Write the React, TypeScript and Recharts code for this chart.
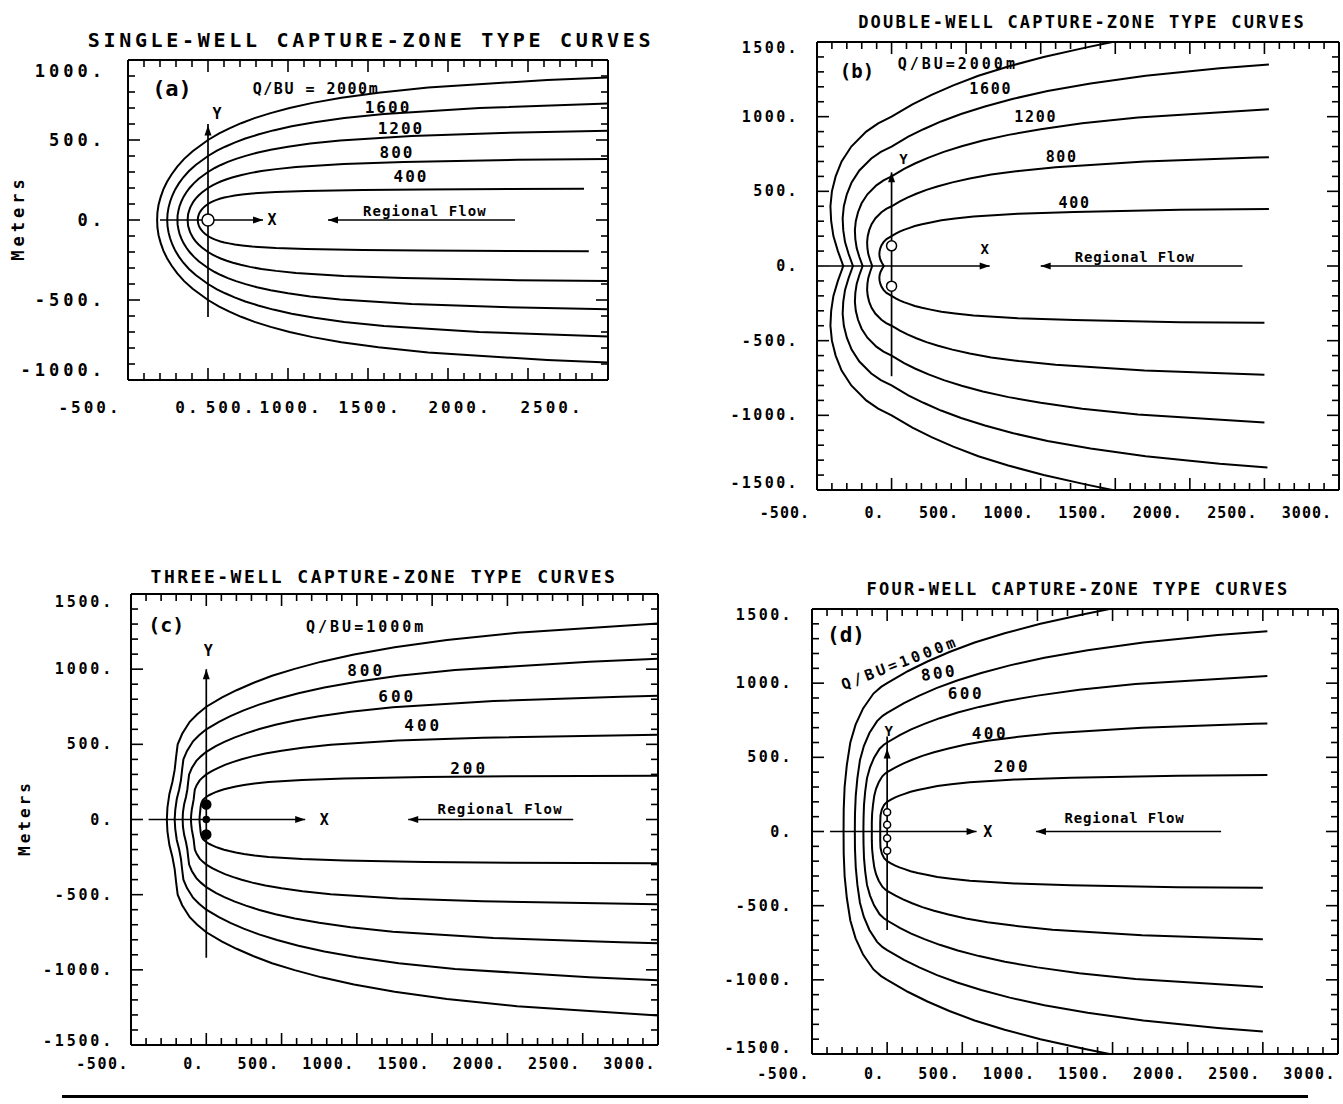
import React from "react";
import { LineChart, Line, XAxis, YAxis, ReferenceLine, ReferenceDot } from "recharts";

type Pt = [number, number];
const FONT = "'DejaVu Sans Mono', 'Liberation Mono', monospace";

// ---------------- (a) single well, Q/BU = 2000, 1600, 1200, 800, 400 m
const singleQ2000: Pt[] = [
  [2500, 891], [2120, 875], [1376, 828], [1065, 796], [834, 764], [654, 732], [510, 700], [391, 668], [291, 637], [207, 605], [134, 573], [70, 541], [0, 500], [-96, 430], [-149, 382], [-192, 334], [-227, 286], [-256, 239], [-279, 191], [-296, 143], [-309, 95], [-316, 48], [-318, 0],
  [-316, -48], [-309, -95], [-296, -143], [-279, -191], [-256, -239], [-227, -286], [-192, -334], [-149, -382], [-96, -430], [0, -500], [70, -541], [134, -573], [207, -605], [291, -637], [391, -668], [510, -700], [654, -732], [834, -764], [1065, -796], [1376, -828], [2120, -875], [2500, -891],
];
const singleQ1600: Pt[] = [
  [2500, 728], [1696, 700], [1100, 662], [852, 637], [667, 611], [523, 586], [408, 560], [313, 534], [233, 509], [166, 484], [107, 458], [56, 433], [0, 400], [-77, 344], [-119, 306], [-154, 267], [-182, 229], [-205, 191], [-223, 153], [-237, 114], [-247, 76], [-253, 38], [-255, 0],
  [-253, -38], [-247, -76], [-237, -114], [-223, -153], [-205, -191], [-182, -229], [-154, -267], [-119, -306], [-77, -344], [0, -400], [56, -433], [107, -458], [166, -484], [233, -509], [313, -534], [408, -560], [523, -586], [667, -611], [852, -637], [1100, -662], [1696, -700], [2500, -728],
];
const singleQ1200: Pt[] = [
  [2500, 558], [1835, 544], [1272, 525], [826, 497], [639, 478], [500, 458], [392, 439], [306, 420], [235, 401], [175, 382], [124, 363], [80, 344], [42, 325], [0, 300], [-58, 258], [-89, 229], [-115, 200], [-136, 172], [-154, 143], [-167, 115], [-178, 86], [-185, 57], [-190, 29], [-191, 0],
  [-190, -29], [-185, -57], [-178, -86], [-167, -115], [-154, -143], [-136, -172], [-115, -200], [-89, -229], [-58, -258], [0, -300], [42, -325], [80, -344], [124, -363], [175, -382], [235, -401], [306, -420], [392, -439], [500, -458], [639, -478], [826, -497], [1272, -525], [1835, -544], [2500, -558],
];
const singleQ800: Pt[] = [
  [2500, 381], [1936, 376], [1223, 363], [848, 350], [550, 331], [426, 318], [334, 306], [262, 293], [204, 280], [156, 267], [117, 255], [83, 242], [53, 229], [28, 216], [0, 200], [-38, 172], [-59, 153], [-77, 134], [-91, 115], [-102, 96], [-112, 76], [-118, 57], [-124, 38], [-126, 19], [-127, 0],
  [-126, -19], [-124, -38], [-118, -57], [-112, -76], [-102, -96], [-91, -115], [-77, -134], [-59, -153], [-38, -172], [0, -200], [28, -216], [53, -229], [83, -242], [117, -255], [156, -267], [204, -280], [262, -293], [334, -306], [426, -318], [550, -331], [848, -350], [1223, -363], [1936, -376], [2500, -381],
];
const singleQ400: Pt[] = [
  [2350, 195], [1340, 191], [968, 188], [612, 181], [424, 175], [275, 166], [213, 159], [167, 153], [131, 146], [102, 140], [78, 134], [58, 127], [41, 121], [27, 115], [14, 108], [0, 100], [-19, 86], [-30, 76], [-38, 67], [-45, 57], [-51, 48], [-56, 38], [-59, 29], [-62, 19], [-63, 10], [-64, 0],
  [-63, -10], [-62, -19], [-59, -29], [-56, -38], [-51, -48], [-45, -57], [-38, -67], [-30, -76], [-19, -86], [0, -100], [14, -108], [27, -115], [41, -121], [58, -127], [78, -134], [102, -140], [131, -146], [167, -153], [213, -159], [275, -166], [424, -175], [612, -181], [968, -188], [1340, -191], [2380, -195],
];

// ---------------- (b) double well, Q/BU = 2000, 1600, 1200, 800, 400 m
const doubleQ2000: Pt[] = [
  [1480, 1500], [1308, 1464], [1020, 1400], [782, 1336], [582, 1274], [414, 1210], [268, 1146], [140, 1082], [0, 1000], [-90, 955], [-170, 900], [-270, 800], [-335, 700], [-375, 600], [-400, 500], [-410, 400], [-405, 300], [-390, 200], [-360, 100], [-324, 0],
  [-360, -100], [-390, -200], [-405, -300], [-410, -400], [-400, -500], [-375, -600], [-335, -700], [-270, -800], [-170, -900], [-90, -955], [0, -1000], [140, -1082], [268, -1146], [414, -1210], [582, -1274], [782, -1336], [1020, -1400], [1308, -1464], [1480, -1500],
];
const doubleQ1600: Pt[] = [
  [2530, 1350], [2200, 1324], [1704, 1274], [1334, 1222], [1046, 1172], [816, 1120], [626, 1068], [466, 1018], [332, 968], [214, 916], [112, 866], [0, 800], [-72, 764], [-136, 720], [-216, 640], [-268, 560], [-300, 480], [-320, 400], [-328, 320], [-324, 240], [-312, 160], [-288, 80], [-259, 0],
  [-288, -80], [-312, -160], [-324, -240], [-328, -320], [-320, -400], [-300, -480], [-268, -560], [-216, -640], [-136, -720], [-72, -764], [0, -800], [112, -866], [214, -916], [332, -968], [466, -1018], [626, -1068], [816, -1120], [1046, -1172], [1334, -1222], [1704, -1274], [2200, -1324], [2520, -1349],
];
const doubleQ1200: Pt[] = [
  [2530, 1049], [1652, 994], [1278, 956], [1000, 916], [784, 878], [612, 840], [470, 802], [350, 764], [248, 726], [160, 688], [84, 650], [0, 600], [-54, 573], [-102, 540], [-162, 480], [-201, 420], [-225, 360], [-240, 300], [-246, 240], [-243, 180], [-234, 120], [-216, 60], [-194, 0],
  [-216, -60], [-234, -120], [-243, -180], [-246, -240], [-240, -300], [-225, -360], [-201, -420], [-162, -480], [-102, -540], [-54, -573], [0, -600], [84, -650], [160, -688], [248, -726], [350, -764], [470, -802], [612, -840], [784, -878], [1000, -916], [1278, -956], [1652, -994], [2500, -1048],
];
const doubleQ800: Pt[] = [
  [2530, 729], [2446, 726], [1696, 700], [1100, 662], [852, 636], [668, 612], [524, 586], [408, 560], [312, 534], [234, 510], [166, 484], [106, 458], [56, 432], [0, 400], [-36, 382], [-68, 360], [-108, 320], [-134, 280], [-150, 240], [-160, 200], [-164, 160], [-162, 120], [-156, 80], [-144, 40], [-130, 0],
  [-144, -40], [-156, -80], [-162, -120], [-164, -160], [-160, -200], [-150, -240], [-134, -280], [-108, -320], [-68, -360], [-36, -382], [0, -400], [56, -432], [106, -458], [166, -484], [234, -510], [312, -534], [408, -560], [524, -586], [668, -612], [852, -636], [1100, -662], [1696, -700], [2500, -728],
];
const doubleQ400: Pt[] = [
  [2530, 381], [1936, 376], [1224, 362], [848, 350], [550, 332], [426, 318], [334, 306], [262, 292], [204, 280], [156, 268], [116, 254], [82, 242], [54, 230], [28, 216], [0, 200], [-34, 180], [-54, 160], [-67, 140], [-75, 120], [-80, 100], [-82, 80], [-80, 60], [-74, 40], [-64, 20], [-52, 0],
  [-64, -20], [-74, -40], [-80, -60], [-82, -80], [-80, -100], [-75, -120], [-67, -140], [-54, -160], [-34, -180], [0, -200], [28, -216], [54, -230], [82, -242], [116, -254], [156, -268], [204, -280], [262, -292], [334, -306], [426, -318], [550, -332], [848, -350], [1224, -362], [1936, -376], [2500, -380],
];

// ---------------- (c) three wells, Q/BU = 1000, 800, 600, 400, 200 m
const tripleQ1000: Pt[] = [
  [3000, 1304], [2064, 1242], [1598, 1194], [1251, 1146], [981, 1098], [765, 1050], [587, 1002], [437, 956], [311, 908], [201, 860], [105, 812], [0, 750], [-60, 700], [-110, 650], [-160, 570], [-190, 500], [-200, 420], [-210, 330], [-225, 250], [-245, 170], [-258, 80], [-262, 0],
  [-258, -80], [-245, -170], [-225, -250], [-210, -330], [-200, -420], [-190, -500], [-160, -570], [-110, -650], [-60, -700], [0, -750], [105, -812], [201, -860], [311, -908], [437, -956], [587, -1002], [765, -1050], [981, -1098], [1251, -1146], [1598, -1194], [2064, -1242], [3000, -1304],
];
const tripleQ800: Pt[] = [
  [3000, 1070], [2544, 1050], [1652, 994], [1278, 956], [1000, 916], [784, 878], [612, 840], [470, 802], [350, 764], [248, 726], [160, 688], [84, 650], [0, 600], [-48, 560], [-88, 520], [-128, 456], [-152, 400], [-160, 336], [-168, 264], [-180, 200], [-196, 136], [-206, 64], [-210, 0],
  [-206, -64], [-196, -136], [-180, -200], [-168, -264], [-160, -336], [-152, -400], [-128, -456], [-88, -520], [-48, -560], [0, -600], [84, -650], [160, -688], [248, -726], [350, -764], [470, -802], [612, -840], [784, -878], [1000, -916], [1278, -956], [1652, -994], [2544, -1050], [3000, -1070],
];
const tripleQ600: Pt[] = [
  [3000, 823], [2753, 816], [1908, 788], [1239, 746], [959, 717], [750, 687], [588, 659], [459, 630], [353, 602], [263, 573], [186, 545], [120, 516], [63, 488], [0, 450], [-36, 420], [-66, 390], [-96, 342], [-114, 300], [-120, 252], [-126, 198], [-135, 150], [-147, 102], [-155, 48], [-157, 0],
  [-155, -48], [-147, -102], [-135, -150], [-126, -198], [-120, -252], [-114, -300], [-96, -342], [-66, -390], [-36, -420], [0, -450], [63, -488], [120, -516], [186, -545], [263, -573], [353, -602], [459, -630], [588, -659], [750, -687], [959, -717], [1239, -746], [1908, -788], [2753, -816], [3000, -823],
];
const tripleQ400: Pt[] = [
  [3000, 564], [1835, 544], [1272, 525], [826, 497], [639, 478], [500, 458], [392, 439], [306, 420], [235, 401], [175, 382], [124, 363], [80, 344], [42, 325], [0, 300], [-24, 280], [-44, 260], [-64, 228], [-76, 200], [-80, 168], [-84, 132], [-90, 100], [-96, 68], [-100, 32], [-102, 0],
  [-100, -32], [-96, -68], [-90, -100], [-84, -132], [-80, -168], [-76, -200], [-64, -228], [-44, -260], [-24, -280], [0, -300], [42, -325], [80, -344], [124, -363], [175, -382], [235, -401], [306, -420], [392, -439], [500, -458], [639, -478], [826, -497], [1272, -525], [1835, -544], [3000, -564],
];
const tripleQ200: Pt[] = [
  [3000, 291], [2010, 287], [1453, 282], [918, 272], [636, 263], [413, 249], [320, 239], [250, 229], [196, 220], [153, 210], [118, 201], [88, 191], [62, 182], [40, 172], [21, 163], [0, 150], [-12, 140], [-22, 130], [-30, 115], [-35, 100], [-38, 80], [-40, 60], [-42, 40], [-44, 20], [-45, 0],
  [-44, -20], [-42, -40], [-40, -60], [-38, -80], [-35, -100], [-30, -115], [-22, -130], [-12, -140], [0, -150], [21, -163], [40, -172], [62, -182], [88, -191], [118, -201], [153, -210], [196, -220], [250, -229], [320, -239], [413, -249], [636, -263], [918, -272], [1453, -282], [2010, -287], [3000, -291],
];

// ---------------- (d) four wells, Q/BU = 1000, 800, 600, 400, 200 m
const quadQ1000: Pt[] = [
  [1480, 1500], [1308, 1464], [1020, 1400], [782, 1336], [582, 1274], [414, 1210], [268, 1146], [140, 1082], [0, 1000], [-40, 975], [-91, 930], [-160, 830], [-210, 720], [-245, 600], [-268, 450], [-283, 300], [-289, 150], [-290, 0],
  [-289, -150], [-283, -300], [-268, -450], [-245, -600], [-210, -720], [-160, -830], [-91, -930], [-40, -975], [0, -1000], [140, -1082], [268, -1146], [414, -1210], [582, -1274], [782, -1336], [1020, -1400], [1308, -1464], [1480, -1500],
];
const quadQ800: Pt[] = [
  [2530, 1350], [2200, 1324], [1704, 1274], [1334, 1222], [1046, 1172], [816, 1120], [626, 1068], [466, 1018], [332, 968], [214, 916], [112, 866], [0, 800], [-30, 780], [-67, 744], [-118, 664], [-155, 576], [-181, 480], [-198, 360], [-209, 240], [-214, 120], [-215, 0],
  [-214, -120], [-209, -240], [-198, -360], [-181, -480], [-155, -576], [-118, -664], [-67, -744], [-30, -780], [0, -800], [112, -866], [214, -916], [332, -968], [466, -1018], [626, -1068], [816, -1120], [1046, -1172], [1334, -1222], [1704, -1274], [2200, -1324], [2500, -1348],
];
const quadQ600: Pt[] = [
  [2530, 1049], [1652, 994], [1278, 956], [1000, 916], [784, 878], [612, 840], [470, 802], [350, 764], [248, 726], [160, 688], [84, 650], [0, 600], [-22, 585], [-50, 558], [-87, 498], [-114, 432], [-134, 360], [-146, 270], [-154, 180], [-157, 90], [-158, 0],
  [-157, -90], [-154, -180], [-146, -270], [-134, -360], [-114, -432], [-87, -498], [-50, -558], [-22, -585], [0, -600], [84, -650], [160, -688], [248, -726], [350, -764], [470, -802], [612, -840], [784, -878], [1000, -916], [1278, -956], [1652, -994], [2500, -1048],
];
const quadQ400: Pt[] = [
  [2530, 728], [2446, 726], [1696, 700], [1100, 662], [852, 636], [668, 612], [524, 586], [408, 560], [312, 534], [234, 510], [166, 484], [106, 458], [56, 432], [0, 400], [-14, 390], [-32, 372], [-56, 332], [-74, 288], [-86, 240], [-94, 180], [-100, 120], [-102, 60], [-102, 0],
  [-102, -60], [-100, -120], [-94, -180], [-86, -240], [-74, -288], [-56, -332], [-32, -372], [-14, -390], [0, -400], [56, -432], [106, -458], [166, -484], [234, -510], [312, -534], [408, -560], [524, -586], [668, -612], [852, -636], [1100, -662], [1696, -700], [2500, -727],
];
const quadQ200: Pt[] = [
  [2530, 381], [1936, 376], [1224, 362], [848, 350], [550, 332], [426, 318], [334, 306], [262, 292], [204, 280], [156, 268], [116, 254], [82, 242], [54, 230], [28, 216], [0, 200], [-20, 180], [-35, 150], [-44, 110], [-46, 60], [-46, 0],
  [-46, -60], [-44, -110], [-35, -150], [-20, -180], [0, -200], [28, -216], [54, -230], [82, -242], [116, -254], [156, -268], [204, -280], [262, -292], [334, -306], [426, -318], [550, -332], [848, -350], [1224, -362], [1936, -376], [2500, -380],
];

// ---------------- tick labels
const xLabelsA = [-500, 0, 500, 1000, 1500, 2000, 2500];
const yLabelsA = [-1000, -500, 0, 500, 1000];
const xLabelsBCD = [-500, 0, 500, 1000, 1500, 2000, 2500, 3000];
const yLabelsBCD = [-1500, -1000, -500, 0, 500, 1000, 1500];

function minorTicks(from: number, to: number, step: number) {
  const out: number[] = [];
  for (let v = from; v <= to; v += step) out.push(v);
  return out;
}

const toRows = (c: Pt[]) => c.map(([x, y]) => ({ x, y }));

type Side = "bottom" | "top" | "left" | "right";
type Place = (v: number, x: number, y: number) => { x: number; y: number; anchor: string };

function makeTick(side: Side, majors: number[], place?: Place, fs = 15, ls = 1) {
  return (props: any) => {
    const { x, y, payload } = props;
    const v: number = payload.value;
    const major = majors.indexOf(v) >= 0;
    const len = major ? 12 : 7;
    let x2 = x;
    let y2 = y;
    if (side === "bottom") y2 = y - len;
    else if (side === "top") y2 = y + len;
    else if (side === "left") x2 = x + len;
    else x2 = x - len;
    const lab = place && major ? place(v, x, y) : null;
    return (
      <g>
        <line x1={x} y1={y} x2={x2} y2={y2} stroke="#000" strokeWidth={1.6} />
        {lab ? (
          <text x={lab.x} y={lab.y} textAnchor={lab.anchor as any} dominantBaseline="central" fontFamily={FONT} fontSize={fs}
            letterSpacing={ls} fontWeight="bold" fill="#000">
            {`${v}.`}
          </text>
        ) : null}
      </g>
    );
  };
}

type Ann =
  | { k: "seg"; a: Pt; b: Pt }
  | { k: "txt"; at: Pt; t: string; fs: number; ls?: number; rot?: number }
  | { k: "dot"; at: Pt; r: number; fill: string }
  | { k: "head"; at: Pt; dir: "l" | "r" | "u" };

interface PanelCfg {
  id: string;
  left: number; top: number; width: number; height: number;
  // plot rectangle inside the chart box
  plot: { left: number; top: number; right: number; bottom: number };
  xDomain: [number, number];
  yDomain: [number, number];
  xMajor: number[]; yMajor: number[];
  xMinor: number[]; yMinor: number[];
  xPlace: Place; yPlace: Place;
  xFs: number; xLs: number; yFs: number; yLs: number;
  curves: Pt[][];
  anns: Ann[];
}

const AX = { stroke: "#000", strokeWidth: 2 };

function headShape(dir: "l" | "r" | "u") {
  return (p: any) => {
    const { cx, cy } = p;
    let pts = "";
    if (dir === "l") pts = `${cx},${cy} ${cx + 10},${cy - 3.5} ${cx + 10},${cy + 3.5}`;
    else if (dir === "r") pts = `${cx},${cy} ${cx - 10},${cy - 3.5} ${cx - 10},${cy + 3.5}`;
    else pts = `${cx},${cy} ${cx - 3.5},${cy + 10} ${cx + 3.5},${cy + 10}`;
    return <polygon points={pts} fill="#000" />;
  };
}

function Panel({ cfg }: { cfg: PanelCfg }) {
  const ids = { xAxisId: "b", yAxisId: "l" };
  // every axis is 1px thick, so the margins are the plot rectangle minus that pixel
  const margin = {
    top: cfg.plot.top - 1,
    left: cfg.plot.left - 1,
    right: cfg.width - cfg.plot.right - 1,
    bottom: cfg.height - cfg.plot.bottom - 1,
  };
  return (
    <div style={{ position: "absolute", left: cfg.left, top: cfg.top, width: cfg.width, height: cfg.height }}>
      <LineChart width={cfg.width} height={cfg.height} margin={margin}>
        <XAxis xAxisId="b" type="number" dataKey="x" domain={cfg.xDomain} allowDataOverflow orientation="bottom" height={1}
          ticks={cfg.xMinor} interval={0} tickSize={0} tickMargin={0} tickLine={false} axisLine={AX}
          tick={makeTick("bottom", cfg.xMajor, cfg.xPlace, cfg.xFs, cfg.xLs)} />
        <XAxis xAxisId="t" type="number" dataKey="x" domain={cfg.xDomain} allowDataOverflow orientation="top" height={1}
          ticks={cfg.xMinor} interval={0} tickSize={0} tickMargin={0} tickLine={false} axisLine={AX}
          tick={makeTick("top", cfg.xMajor)} />
        <YAxis yAxisId="l" type="number" dataKey="y" domain={cfg.yDomain} allowDataOverflow orientation="left" width={1}
          ticks={cfg.yMinor} interval={0} tickSize={0} tickMargin={0} tickLine={false} axisLine={AX}
          tick={makeTick("left", cfg.yMajor, cfg.yPlace, cfg.yFs, cfg.yLs)} />
        <YAxis yAxisId="r" type="number" dataKey="y" domain={cfg.yDomain} allowDataOverflow orientation="right" width={1}
          ticks={cfg.yMinor} interval={0} tickSize={0} tickMargin={0} tickLine={false} axisLine={AX}
          tick={makeTick("right", cfg.yMajor)} />
        {cfg.curves.map((c, i) => (
          <Line key={`c${i}`} {...ids} data={toRows(c)} dataKey="y" type="linear" stroke="#000" strokeWidth={2}
            dot={false} activeDot={false} isAnimationActive={false} />
        ))}
        {cfg.anns.map((a, i) => {
          if (a.k === "seg")
            return (
              <ReferenceLine key={`a${i}`} {...ids} segment={[{ x: a.a[0], y: a.a[1] }, { x: a.b[0], y: a.b[1] }]}
                stroke="#000" strokeWidth={1.7} ifOverflow="visible" />
            );
          if (a.k === "dot")
            return <ReferenceDot key={`a${i}`} {...ids} x={a.at[0]} y={a.at[1]} r={a.r} fill={a.fill} stroke="#000" strokeWidth={1.5} ifOverflow="visible" />;
          if (a.k === "head")
            return <ReferenceDot key={`a${i}`} {...ids} x={a.at[0]} y={a.at[1]} r={1} ifOverflow="visible" shape={headShape(a.dir)} />;
          const t = a;
          return (
            <ReferenceDot key={`a${i}`} {...ids} x={t.at[0]} y={t.at[1]} r={1} ifOverflow="visible"
              shape={(p: any) => (
                <text x={p.cx} y={p.cy} textAnchor="middle" dominantBaseline="central" fontFamily={FONT}
                  fontSize={t.fs} letterSpacing={t.ls ?? 0} fontWeight="bold" fill="#000"
                  transform={t.rot ? `rotate(${t.rot} ${p.cx} ${p.cy})` : undefined}>
                  {t.t}
                </text>
              )} />
          );
        })}
      </LineChart>
    </div>
  );
}

// per-label horizontal centre offsets of panel (a)'s bottom labels, as drawn in the reference
const A_X_OFF: Record<string, number> = { "-500": -38, "0": -20, "500": -57, "1000": -77, "1500": -78, "2000": -68, "2500": -56 };

const panels: PanelCfg[] = [
  {
    id: "a", left: 0, top: 0, width: 660, height: 440,
    plot: { left: 128, top: 60, right: 608, bottom: 380 },
    xDomain: [-500, 2500], yDomain: [-1000, 1000],
    xMajor: xLabelsA, yMajor: yLabelsA,
    xMinor: minorTicks(-500, 2500, 100), yMinor: minorTicks(-1000, 1000, 100),
    xPlace: (v, x, y) => ({ x: x + (A_X_OFF[String(v)] ?? 0), y: y + 27, anchor: "middle" }),
    yPlace: (v, x, y) => ({ x: x - 22, y: y + (v === 1000 ? 11 : v === -1000 ? -10 : 0), anchor: "end" }),
    xFs: 16, xLs: 3, yFs: 17, yLs: 4,
    curves: [singleQ2000, singleQ1600, singleQ1200, singleQ800, singleQ400],
    anns: [
      { k: "seg", a: [750, 0], b: [1919, 0] },
      { k: "head", at: [750, 0], dir: "l" },
      { k: "seg", a: [-300, 0], b: [344, 0] },
      { k: "head", at: [344, 0], dir: "r" },
      { k: "seg", a: [0, -606], b: [0, 600] },
      { k: "head", at: [0, 590], dir: "u" },
      { k: "dot", at: [0, 0], r: 6, fill: "#fff" },
      { k: "txt", at: [400, 0], t: "X", fs: 15 },
      { k: "txt", at: [56, 663], t: "Y", fs: 15 },
      { k: "txt", at: [-225, 825], t: "(a)", fs: 22 },
      { k: "txt", at: [675, 819], t: "Q/BU = 2000m", fs: 15, ls: 1.5 },
      { k: "txt", at: [1125, 706], t: "1600", fs: 16, ls: 2 },
      { k: "txt", at: [1206, 575], t: "1200", fs: 16, ls: 2 },
      { k: "txt", at: [1181, 419], t: "800", fs: 16, ls: 2 },
      { k: "txt", at: [1269, 269], t: "400", fs: 16, ls: 2 },
      { k: "txt", at: [1356, 58], t: "Regional Flow", fs: 14, ls: 1.1 },
    ],
  },
  {
    id: "b", left: 700, top: 0, width: 643, height: 540,
    plot: { left: 117, top: 42, right: 639, bottom: 490 },
    xDomain: [-500, 3000], yDomain: [-1500, 1500],
    xMajor: xLabelsBCD, yMajor: yLabelsBCD,
    xMinor: minorTicks(-500, 3000, 100), yMinor: minorTicks(-1500, 1500, 100),
    xPlace: (v, x, y) => ({ x: x - 7, y: y + 23, anchor: "end" }),
    yPlace: (v, x, y) => ({ x: x - 18, y: y + (v === 1500 ? 6 : v === -1500 ? -7 : 0), anchor: "end" }),
    xFs: 15, xLs: 1, yFs: 15, yLs: 2.4,
    curves: [doubleQ2000, doubleQ1600, doubleQ1200, doubleQ800, doubleQ400],
    anns: [
      { k: "seg", a: [1000, 0], b: [2353, 0] },
      { k: "head", at: [1000, 0], dir: "l" },
      { k: "seg", a: [-420, 0], b: [658, 0] },
      { k: "head", at: [658, 0], dir: "r" },
      { k: "seg", a: [0, -738], b: [0, 627] },
      { k: "head", at: [0, 627], dir: "u" },
      { k: "dot", at: [0, 135], r: 5, fill: "#fff" },
      { k: "dot", at: [0, -135], r: 5, fill: "#fff" },
      { k: "txt", at: [625, 111], t: "X", fs: 14 },
      { k: "txt", at: [80, 715], t: "Y", fs: 14 },
      { k: "txt", at: [-232, 1304], t: "(b)", fs: 19 },
      { k: "txt", at: [444, 1351], t: "Q/BU=2000m", fs: 15, ls: 3 },
      { k: "txt", at: [665, 1184], t: "1600", fs: 15, ls: 1.7 },
      { k: "txt", at: [967, 996], t: "1200", fs: 15, ls: 1.7 },
      { k: "txt", at: [1141, 728], t: "800", fs: 15, ls: 1.7 },
      { k: "txt", at: [1228, 425], t: "400", fs: 15, ls: 1.7 },
      { k: "txt", at: [1630, 58], t: "Regional Flow", fs: 14, ls: 0.8 },
    ],
  },
  {
    id: "c", left: 0, top: 560, width: 680, height: 544,
    plot: { left: 131, top: 34, right: 658, bottom: 485 },
    xDomain: [-500, 3000], yDomain: [-1500, 1500],
    xMajor: xLabelsBCD, yMajor: yLabelsBCD,
    xMinor: minorTicks(-500, 3000, 100), yMinor: minorTicks(-1500, 1500, 100),
    xPlace: (v, x, y) => ({ x: x - 2, y: y + 19, anchor: "end" }),
    yPlace: (v, x, y) => ({ x: x - 17, y: y + (v === 1500 ? 8 : v === -1500 ? -4 : 0), anchor: "end" }),
    xFs: 15, xLs: 1.5, yFs: 15, yLs: 2.8,
    curves: [tripleQ1000, tripleQ800, tripleQ600, tripleQ400, tripleQ200],
    anns: [
      { k: "seg", a: [1341, 0], b: [2437, 0] },
      { k: "head", at: [1341, 0], dir: "l" },
      { k: "seg", a: [-383, 0], b: [657, 0] },
      { k: "head", at: [657, 0], dir: "r" },
      { k: "seg", a: [0, -920], b: [0, 1000] },
      { k: "head", at: [0, 1000], dir: "u" },
      { k: "dot", at: [0, 100], r: 4.5, fill: "#000" },
      { k: "dot", at: [0, -100], r: 4.5, fill: "#000" },
      { k: "dot", at: [0, 0], r: 3, fill: "#000" },
      { k: "txt", at: [784, 0], t: "X", fs: 15 },
      { k: "txt", at: [13, 1120], t: "Y", fs: 15 },
      { k: "txt", at: [-266, 1293], t: "(c)", fs: 20 },
      { k: "txt", at: [1062, 1281], t: "Q/BU=1000m", fs: 15, ls: 3 },
      { k: "txt", at: [1062, 988], t: "800", fs: 16, ls: 3 },
      { k: "txt", at: [1268, 815], t: "600", fs: 16, ls: 3 },
      { k: "txt", at: [1441, 622], t: "400", fs: 16, ls: 3 },
      { k: "txt", at: [1746, 336], t: "200", fs: 16, ls: 3 },
      { k: "txt", at: [1952, 70], t: "Regional Flow", fs: 14, ls: 1.2 },
    ],
  },
  {
    id: "d", left: 700, top: 570, width: 643, height: 534,
    plot: { left: 112, top: 39, right: 638, bottom: 484 },
    xDomain: [-500, 3000], yDomain: [-1500, 1500],
    xMajor: xLabelsBCD, yMajor: yLabelsBCD,
    xMinor: minorTicks(-500, 3000, 100), yMinor: minorTicks(-1500, 1500, 100),
    xPlace: (v, x, y) => ({ x: x - 2, y: y + 20, anchor: "end" }),
    yPlace: (v, x, y) => ({ x: x - 19, y: y + (v === 1500 ? 6 : v === -1500 ? -6 : 0), anchor: "end" }),
    xFs: 15, xLs: 1.5, yFs: 15, yLs: 2.4,
    curves: [quadQ1000, quadQ800, quadQ600, quadQ400, quadQ200],
    anns: [
      { k: "seg", a: [990, 0], b: [2222, 0] },
      { k: "head", at: [990, 0], dir: "l" },
      { k: "seg", a: [-380, 0], b: [595, 0] },
      { k: "head", at: [595, 0], dir: "r" },
      { k: "seg", a: [0, -664], b: [0, 640] },
      { k: "head", at: [0, 560], dir: "u" },
      { k: "dot", at: [0, 130], r: 3.5, fill: "#fff" },
      { k: "dot", at: [0, 45], r: 3.5, fill: "#fff" },
      { k: "dot", at: [0, -45], r: 3.5, fill: "#fff" },
      { k: "dot", at: [0, -130], r: 3.5, fill: "#fff" },
      { k: "txt", at: [670, 0], t: "X", fs: 15 },
      { k: "txt", at: [10, 680], t: "Y", fs: 14 },
      { k: "txt", at: [-274, 1325], t: "(d)", fs: 21 },
      { k: "txt", at: [85, 1136], t: "Q/BU=1000m", fs: 15, ls: 3.4, rot: -21 },
      { k: "txt", at: [345, 1069], t: "800", fs: 16, ls: 2.5, rot: -8 },
      { k: "txt", at: [524, 932], t: "600", fs: 16, ls: 2.5 },
      { k: "txt", at: [684, 662], t: "400", fs: 16, ls: 2.5 },
      { k: "txt", at: [830, 437], t: "200", fs: 16, ls: 2.5 },
      { k: "txt", at: [1580, 89], t: "Regional Flow", fs: 14, ls: 0.8 },
    ],
  },
];

const titles = [
  { t: "SINGLE-WELL CAPTURE-ZONE TYPE CURVES", x: 371, y: 40, fs: 20, ls: 3.7 },
  { t: "DOUBLE-WELL CAPTURE-ZONE TYPE CURVES", x: 1082, y: 22, fs: 17, ls: 2.2 },
  { t: "THREE-WELL CAPTURE-ZONE TYPE CURVES", x: 384, y: 577, fs: 18, ls: 2.5 },
  { t: "FOUR-WELL CAPTURE-ZONE TYPE CURVES", x: 1078, y: 589, fs: 17, ls: 2.2 },
];

const axisTitles = [
  { t: "Meters", x: 18, y: 218, fs: 17, ls: 4 },
  { t: "Meters", x: 25, y: 818, fs: 16, ls: 3 },
];

export default function App() {
  return (
    <div style={{ position: "absolute", left: 0, top: 0, width: 1343, height: 1104, background: "#fff", overflow: "hidden" }}>
      {panels.map((p) => (
        <Panel key={p.id} cfg={p} />
      ))}
      {titles.map((t, i) => (
        <div key={`t${i}`} style={{ position: "absolute", left: t.x, top: t.y, transform: "translate(-50%, -50%)", whiteSpace: "nowrap",
          fontFamily: FONT, fontSize: t.fs, letterSpacing: t.ls, fontWeight: "bold", color: "#000", lineHeight: 1 }}>
          {t.t}
        </div>
      ))}
      {axisTitles.map((t, i) => (
        <div key={`m${i}`} style={{ position: "absolute", left: t.x, top: t.y, transform: "translate(-50%, -50%) rotate(-90deg)", whiteSpace: "nowrap",
          fontFamily: FONT, fontSize: t.fs, letterSpacing: t.ls, fontWeight: "bold", color: "#000", lineHeight: 1 }}>
          {t.t}
        </div>
      ))}
      <div style={{ position: "absolute", left: 62, top: 1095, width: 1246, height: 3, background: "#000" }} />
    </div>
  );
}
